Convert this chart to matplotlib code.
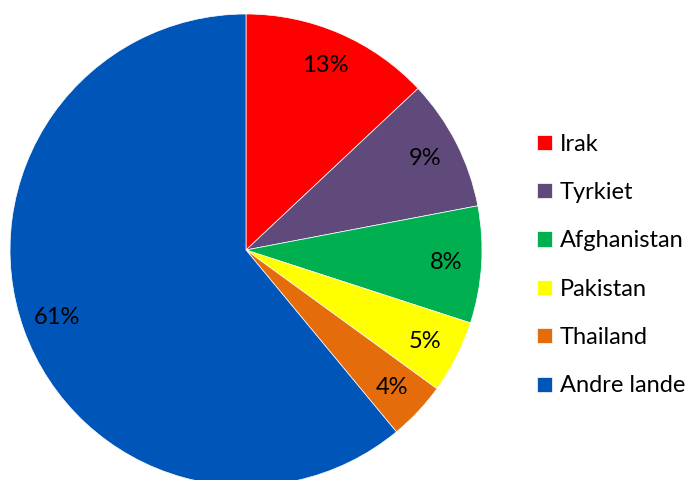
import matplotlib.pyplot as plt

labels = ['Irak', 'Tyrkiet', 'Afghanistan', 'Pakistan', 'Thailand', 'Andre lande']
shares = [13, 9, 8, 5, 4, 61]
colors = ['#FF0000', '#604A7B', '#00B050', '#FFFF00', '#E46C0A', '#0055B8']

plt.rcParams['font.family'] = ['Lato', 'DejaVu Sans']

W, H = 694, 480
fig = plt.figure(figsize=(W / 100, H / 100), dpi=100)

# pie centre (246, 250) px from top-left, radius 236 px
cx, cy, r = 246, 250, 236
ax = fig.add_axes([(cx - r) / W, (H - cy - r) / H, 2 * r / W, 2 * r / H])

wedges, texts = ax.pie(shares, colors=colors, startangle=90, counterclock=False,
                       labels=[f'{s}%' for s in shares], labeldistance=0.85,
                       wedgeprops=dict(edgecolor='white', linewidth=0.5),
                       textprops=dict(fontsize=17, color='black'))
for t in texts:
    t.set_horizontalalignment('center')
    t.set_verticalalignment('center')
ax.set_xlim(-1, 1)
ax.set_ylim(-1, 1)
ax.set_aspect('equal')
ax.axis('off')

fig.legend(wedges, labels, loc='center left', bbox_to_anchor=(537 / W, (H - 265) / H),
           frameon=False, fontsize=17, handlelength=0.62, handleheight=0.62,
           handletextpad=0.35, labelspacing=1.16, borderpad=0, borderaxespad=0)

fig.savefig('out.png', dpi=100)
